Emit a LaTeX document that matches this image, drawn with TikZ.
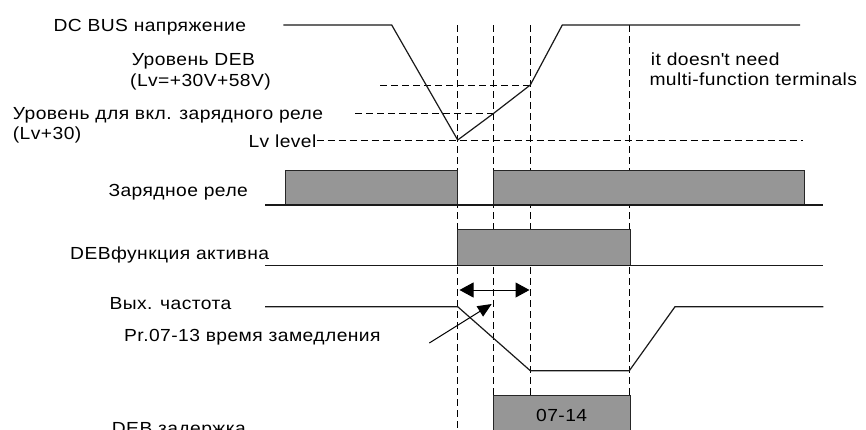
\documentclass[tikz,border=0pt]{standalone}
\usepackage{fontspec}
\setmainfont{Liberation Sans}[FakeStretch=1.1,LetterSpace=2.5]
\usetikzlibrary{arrows.meta}
\definecolor{boxgray}{RGB}{150,150,150}
\begin{document}
\begin{tikzpicture}[x=1pt,y=-1pt,
  lbl/.style={anchor=base west, inner sep=0pt, font=\fontsize{17.5}{21}\selectfont},
  sig/.style={line width=1.2pt, black!90},
  guide/.style={line width=1pt, dash pattern=on 7pt off 4pt},
  pulse/.style={fill=boxgray, draw=black!85, line width=0.9pt},
  bigtips/.style={{Triangle[length=14pt,width=15pt]}-{Triangle[length=14pt,width=15pt]}, line width=1pt},
  pointtip/.style={-{Triangle[length=14pt,width=12pt]}, line width=1pt}]
\useasboundingbox (0,0) rectangle (866,429);
\clip (0,0) rectangle (866,429);

% vertical guides
\foreach \n/\x in {a/457.7,b/493.7,c/530.3,d/629.3} {
  \coordinate (top\n) at (\x,25);
  \coordinate (bot\n) at (\x,440);
  \draw[guide] (top\n) -- (bot\n);
}

% labels
\node[lbl] (dcbus) at (53.3,31) {DC BUS напряжение};
\node[lbl] (deb1) at (131.7,65) {Уровень DEB};
\node[lbl] (deb2) at (130,86.7) {(Lv=+30V+58V)};
\node[lbl] (chg1) at (12.7,119.3) {Уровень для вкл. зарядного реле};
\node[lbl] (chg2) at (12.7,139.3) {(Lv+30)};
\node[lbl] (lvl) at (248.3,147) {Lv level};
\node[lbl] (relay) at (108.3,196) {Зарядное реле};
\node[lbl] (debact) at (70,259.3) {DEBфункция активна};
\node[lbl] (fout) at (109.3,309.3) {Вых. частота};
\node[lbl] (pr) at (124,341.7) {Pr.07-13 время замедления};
\node[lbl] (debdel) at (111.7,434) {DEB задержка};
\node[lbl] (note1) at (650.7,65) {it doesn\textquotesingle t need};
\node[lbl] (note2) at (649.3,85) {multi-function terminals};

% DC bus points
\coordinate (v0) at (283.3,25);
\coordinate (v1) at (391.7,25);
\coordinate (v2) at (457.7,140);
\coordinate (v3) at (493.7,113.3);
\coordinate (v4) at (530.3,85);
\coordinate (v5) at (562.3,25);
\coordinate (v6) at (800,25);

% horizontal level guides
\coordinate (debL) at (380,85);
\coordinate (chgL) at (355,113.3);
\coordinate (lvL) at (316.7,140);
\coordinate (lvR) at (803,140);
\draw[guide] (debL) -- (v4);
\draw[guide] (chgL) -- (v3);
\draw[guide] (lvL) -- (lvR);

\draw[sig] (v0) -- (v1) -- (v2) -- (v3) -- (v4) -- (v5) -- (v6);

% charge relay
\coordinate (r0) at (265,205);
\coordinate (r1) at (823.3,205);
\draw[pulse] (285,170) rectangle (457.7,205);
\draw[pulse] (493.7,170) rectangle (804.3,205);
\draw[sig] (r0) -- (r1);

% DEB function active
\coordinate (d0) at (265,265.7);
\coordinate (d1) at (823.3,265.7);
\draw[pulse] (457.7,229.3) rectangle (630,265.7);
\draw[sig] (d0) -- (d1);

% output frequency
\coordinate (f0) at (265,306.7);
\coordinate (f1) at (457.7,306.7);
\coordinate (f2) at (530.3,370.7);
\coordinate (f3) at (629.3,370.7);
\coordinate (f4) at (675,306.7);
\coordinate (f5) at (823.3,306.7);
\draw[sig] (f0) -- (f1) -- (f2) -- (f3) -- (f4) -- (f5);

% arrows
\coordinate (aL) at (459.5,290);
\coordinate (aR) at (529.5,290);
\draw[bigtips] (aL) -- (aR);
\coordinate (pt0) at (429.3,343);
\coordinate (pt1) at (491.7,304);
\draw[pointtip] (pt0) -- (pt1);

% DEB delay box
\draw[pulse] (493.7,395.7) rectangle (630,445);
\node[anchor=base, inner sep=0pt, font=\fontsize{17.5}{21}\selectfont] (t714) at (561.7,421.7) {07-14};
\end{tikzpicture}
\end{document}
